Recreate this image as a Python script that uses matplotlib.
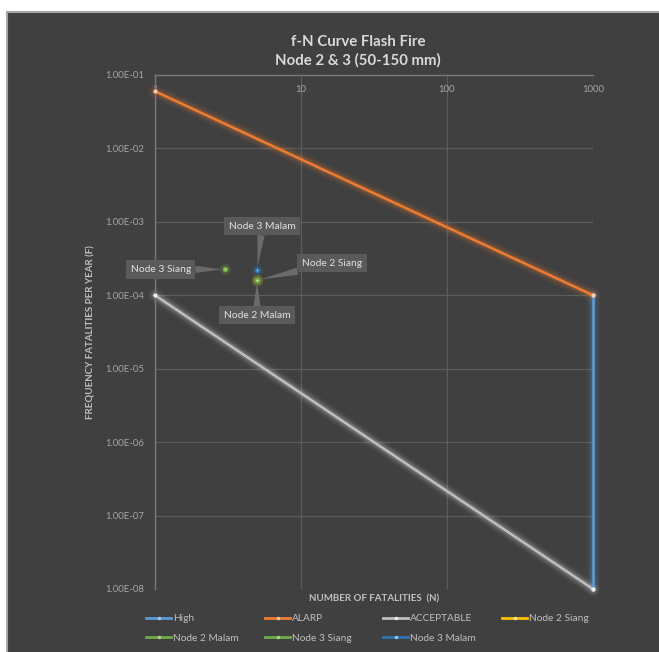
import matplotlib
matplotlib.use("Agg")
import matplotlib.pyplot as plt
from matplotlib.patches import Rectangle
from matplotlib.lines import Line2D
from matplotlib.ticker import FixedLocator, FuncFormatter, NullLocator

plt.rcParams['font.family'] = ['Lato', 'DejaVu Sans']

# Criteria lines (N, F)
high_n = [1000, 1000]
high_f = [1e-4, 1e-8]
alarp_n = [1, 1000]
alarp_f = [6e-2, 1e-4]
acceptable_n = [1, 1000]
acceptable_f = [1e-4, 1e-8]

# Scenario points
node_names = ["Node 2 Siang", "Node 2 Malam", "Node 3 Siang", "Node 3 Malam"]
node_n = [5, 5, 3, 5]
node_f = [1.6e-4, 1.6e-4, 2.25e-4, 2.2e-4]
node_colors = ["#FFC000", "#70AD47", "#70AD47", "#2E75B6"]

x_ticks = [1, 10, 100, 1000]
y_ticks = [1e-8, 1e-7, 1e-6, 1e-5, 1e-4, 1e-3, 1e-2, 1e-1]

BG = "#404040"
W, H = 659, 652
fig = plt.figure(figsize=(W / 100, H / 100), dpi=100, facecolor="white")

# chart area panel
fig.patches.append(Rectangle((7 / W, -0.05), 1.1, 1 - 12 / H + 0.05,
                             transform=fig.transFigure, facecolor=BG,
                             edgecolor="#a6a6a6", linewidth=1.5, zorder=-10))

ax = fig.add_axes([155 / W, 1 - 589 / H, (593 - 155) / W, (589 - 75) / H])
ax.set_zorder(1)
ax.set_facecolor(BG)
ax.set_xscale("log")
ax.set_yscale("log")
ax.set_xlim(1, 1000)
ax.set_ylim(1e-8, 1e-1)

ax.xaxis.set_major_locator(FixedLocator(x_ticks))
ax.xaxis.set_minor_locator(NullLocator())
ax.xaxis.set_major_formatter(FuncFormatter(lambda v, p: f"{v:g}"))
ax.yaxis.set_major_locator(FixedLocator(y_ticks))
ax.yaxis.set_minor_locator(NullLocator())
ax.yaxis.set_major_formatter(FuncFormatter(lambda v, p: f"{v:.2E}"))

ax.grid(True, which="major", color="#5c5c5c", linewidth=0.9)
ax.set_axisbelow(True)
ax.tick_params(axis="x", top=True, labeltop=True, bottom=False, labelbottom=False,
               length=0, pad=-14, labelsize=6.9, labelcolor="#a6a6a6")
ax.tick_params(axis="y", length=0, pad=8, labelsize=6.9, labelcolor="#a6a6a6")
for s in ["right", "bottom"]:
    ax.spines[s].set_visible(False)
for s in ["left", "top"]:
    ax.spines[s].set_color("#7a7a7a")
    ax.spines[s].set_linewidth(1.0)

ax.set_xlabel("NUMBER OF FATALITIES  (N)", fontsize=7, color="#bfbfbf",
              fontweight="bold")
ax.xaxis.set_label_coords(0.5, -0.011)
ax.set_ylabel("FREQUENCY FATALITIES PER YEAR (F)", fontsize=7, color="#bfbfbf",
              fontweight="bold")
ax.yaxis.set_label_coords(-0.137, 0.5)


def glow_line(x, y, color, lw):
    for w, a in [(lw + 8, 0.06), (lw + 5, 0.1), (lw + 2.5, 0.18)]:
        ax.plot(x, y, color=color, linewidth=w, alpha=a, solid_capstyle="round",
                zorder=2, clip_on=False)


glow_line(high_n, high_f, "#5B9BD5", 1.8)
glow_line(alarp_n, alarp_f, "#ED7D31", 1.8)
glow_line(acceptable_n, acceptable_f, "#D9D9D9", 1.8)

ax.plot(high_n, high_f, color="#5B9BD5", linewidth=1.8, marker="o", markersize=3,
        markerfacecolor="#9DC3E6", markeredgewidth=0, zorder=3, clip_on=False)
ax.plot(alarp_n, alarp_f, color="#ED7D31", linewidth=1.8, marker="o", markersize=3,
        markerfacecolor="#F8CBAD", markeredgewidth=0, zorder=3, clip_on=False)
ax.plot(acceptable_n, acceptable_f, color="#BFBFBF", linewidth=1.8, marker="o",
        markersize=3, markerfacecolor="#EDEDED", markeredgewidth=0, zorder=3,
        clip_on=False)

for n, f, c in zip(node_n, node_f, node_colors):
    ax.plot([n], [f], "o", color=c, markersize=8, alpha=0.2, markeredgewidth=0, zorder=4)
    ax.plot([n], [f], "o", color=c, markersize=4, markeredgewidth=0, zorder=5)
    ax.plot([n], [f], "o", color="white", markersize=1.3, alpha=0.6,
            markeredgewidth=0, zorder=6)

# data labels with callout leaders (offsets in pixels)
label_offsets = {
    "Node 2 Siang": (75, 17),
    "Node 2 Malam": (0, -35),
    "Node 3 Siang": (-64, 0),
    "Node 3 Malam": (5, 44),
}
for name, n, f in zip(node_names, node_n, node_f):
    ax.annotate(name, xy=(n, f), xytext=label_offsets[name],
                textcoords="offset pixels", ha="center", va="center",
                fontsize=7.4, color="#e0e0e0", zorder=7,
                bbox=dict(boxstyle="square,pad=0.45", facecolor="#5a5a5a",
                          edgecolor="none"),
                arrowprops=dict(arrowstyle="wedge,tail_width=0.7,shrink_factor=0.5",
                                facecolor="#6a6a6a", edgecolor="none",
                                shrinkA=0, shrinkB=2))

# title
fig.text(358 / W, 1 - 51 / H, "f-N Curve Flash Fire\nNode 2 & 3 (50-150 mm)",
         ha="center", va="center", fontsize=10.8, color="#d9d9d9",
         fontweight="bold", linespacing=1.35)

# legend: four columns placed at fixed horizontal positions
legend_columns = [
    [("High", "#5B9BD5", "#9DC3E6"), ("Node 2 Malam", "#70AD47", "#A9D18E")],
    [("ALARP", "#ED7D31", "#F8CBAD"), ("Node 3 Siang", "#70AD47", "#A9D18E")],
    [("ACCEPTABLE", "#BFBFBF", "#EDEDED"), ("Node 3 Malam", "#2E75B6", "#9DC3E6")],
    [("Node 2 Siang", "#FFC000", "#FFE699")],
]
column_left_px = [146, 265, 383, 502]
for items, xpx in zip(legend_columns, column_left_px):
    handles = [Line2D([], [], color=c, linewidth=2, marker="o", markersize=2.5,
                      markerfacecolor=mc, markeredgewidth=0) for _, c, mc in items]
    labels = [name for name, _, _ in items]
    leg = fig.legend(handles, labels, loc="upper left",
                     bbox_to_anchor=(xpx / W, 1 - 614 / H), frameon=False,
                     fontsize=7.3, handlelength=2.5, handletextpad=0.2,
                     labelspacing=1.05, borderpad=0, borderaxespad=0)
    for t in leg.get_texts():
        t.set_color("#bfbfbf")

fig.savefig("out.png", dpi=100, facecolor="white")
